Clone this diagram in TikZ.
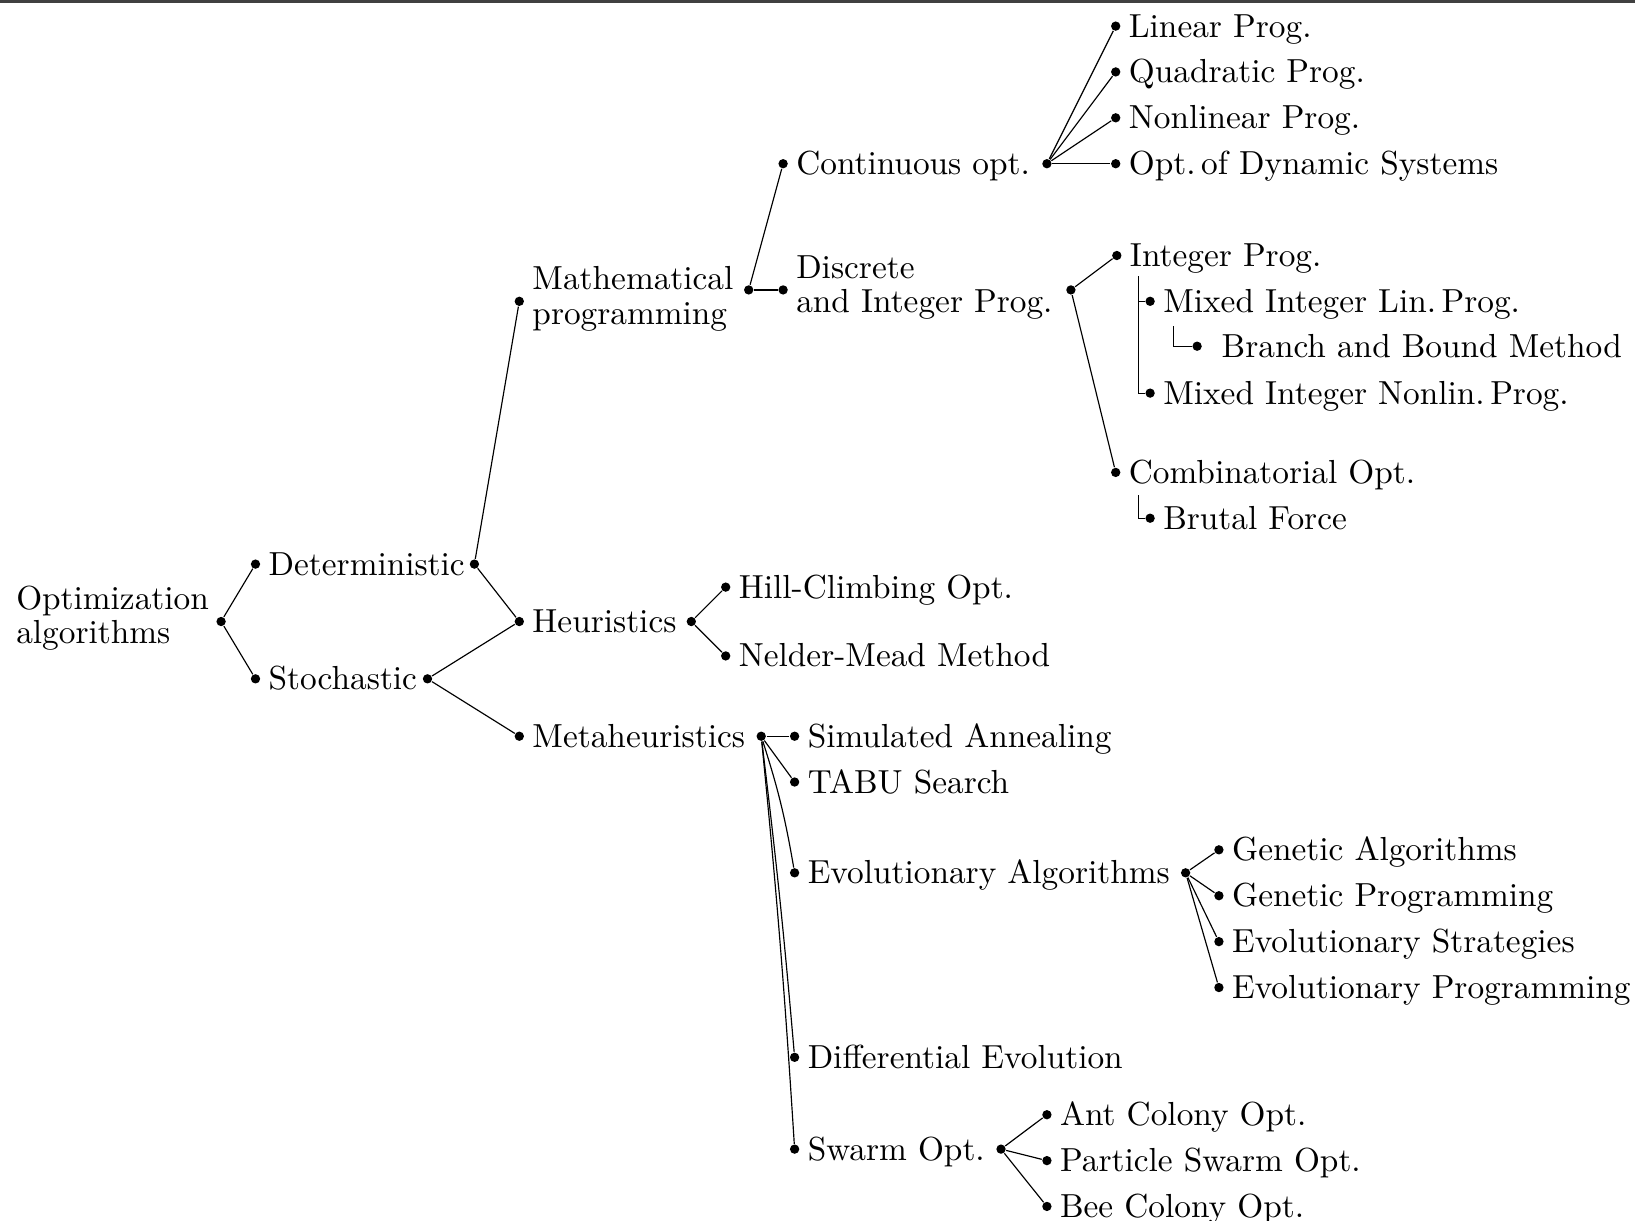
\documentclass[tikz,border=0pt]{standalone}
\begin{document}
\begin{tikzpicture}[x=0.3pt,y=-0.3pt,
  dot/.style={circle, fill=black, inner sep=0pt, minimum size=2.8pt},
  lbl/.style={anchor=base west, inner sep=0pt, font=\fontsize{10}{10.3}\selectfont},
  lbltwo/.style={anchor=west, inner sep=0pt, align=left, font=\fontsize{10}{10.3}\selectfont},
  conn/.style={line width=0.35pt},
  frameline/.style={line width=0.8pt, black!75}]
\useasboundingbox (0,0) rectangle (1635,1220);
\draw[frameline] (0,1.5) -- (1635,1.5);
\newcommand{\mkleaf}[4]{\node[dot] (#1) at (#2,#3) {}; \node[lbl] (#1t) at (#2+12.5,#3+11) {#4};}
% root
\node[dot] (root) at (221.1,621.5) {};
\node[lbltwo] (roott) at (15.6,618) {Optimization\\algorithms};
% level 1
\mkleaf{detL}{255.5}{564.1}{Deterministic}
\node[dot] (detR) at (474.4,564.1) {};
\mkleaf{stoL}{255.5}{678.8}{Stochastic}
\node[dot] (stoR) at (427.5,678.8) {};
% level 2
\node[dot] (mpL) at (519.3,301.3) {};
\node[lbltwo] (mpt) at (531.8,298.8) {Mathematical\\programming};
\node[dot] (mpR) at (748.7,289.9) {};
\mkleaf{heL}{519.3}{621.5}{Heuristics}
\node[dot] (heR) at (691.3,621.5) {};
\mkleaf{meL}{519.3}{736.2}{Metaheuristics}
\node[dot] (meR) at (761.2,736.2) {};
% level 3
\mkleaf{coL}{783.1}{163.7}{Continuous opt.}
\node[dot] (coR) at (1046.9,163.7) {};
\node[dot] (diL) at (783.1,289.9) {};
\node[lbltwo] (dit) at (795.6,287.4) {Discrete\\and Integer Prog.};
\node[dot] (diR) at (1070.9,289.9) {};
\mkleaf{hc}{725.7}{587.1}{Hill-Climbing Opt.}
\mkleaf{nm}{725.7}{655.9}{Nelder-Mead Method}
\mkleaf{sa}{794.6}{736.2}{Simulated Annealing}
\mkleaf{ts}{794.6}{782.0}{TABU Search}
\mkleaf{eaL}{794.6}{872.8}{Evolutionary Algorithms}
\node[dot] (eaR) at (1185.6,872.8) {};
\mkleaf{de}{794.6}{1057.3}{Differential Evolution}
\mkleaf{swL}{794.6}{1149.1}{Swarm Opt.}
\node[dot] (swR) at (1001,1149.1) {};
% level 4
\mkleaf{lp}{1115.7}{26.1}{Linear Prog.}
\mkleaf{qp}{1115.7}{71.9}{Quadratic Prog.}
\mkleaf{nlp}{1115.7}{117.8}{Nonlinear Prog.}
\mkleaf{ods}{1115.7}{163.7}{Opt.\,of Dynamic Systems}
\mkleaf{ip}{1116.8}{255.5}{Integer Prog.}
\mkleaf{milp}{1150.1}{301.3}{Mixed Integer Lin.\,Prog.}
\node[dot] (bnb) at (1197.1,346.2) {};
\node[lbl] (bnbt) at (1221,357.2) {Branch and Bound Method};
\mkleaf{minlp}{1150.1}{393.1}{Mixed Integer Nonlin.\,Prog.}
\mkleaf{co}{1115.7}{472.4}{Combinatorial Opt.}
\mkleaf{bf}{1150.1}{518.2}{Brutal Force}
\mkleaf{ga}{1218.9}{849.8}{Genetic Algorithms}
\mkleaf{gp}{1218.9}{895.7}{Genetic Programming}
\mkleaf{es}{1218.9}{941.6}{Evolutionary Strategies}
\mkleaf{ep}{1218.9}{987.5}{Evolutionary Programming}
\mkleaf{aco}{1046.9}{1114.7}{Ant Colony Opt.}
\mkleaf{pso}{1046.9}{1160.6}{Particle Swarm Opt.}
\mkleaf{bco}{1046.9}{1206.4}{Bee Colony Opt.}
% elbow coordinates
\coordinate (ipv) at (1138.7,276);
\coordinate (bbv) at (1173.1,326.4);
\coordinate (bfv) at (1138.7,495.3);
% connectors
\draw[conn] (root) -- (detL);
\draw[conn] (root) -- (stoL);
\draw[conn] (detR) -- (mpL);
\draw[conn] (detR) -- (heL);
\draw[conn] (stoR) -- (heL);
\draw[conn] (stoR) -- (meL);
\draw[conn] (mpR) -- (coL);
\draw[conn] (mpR) -- (diL);
\draw[conn] (coR) -- (lp);
\draw[conn] (coR) -- (qp);
\draw[conn] (coR) -- (nlp);
\draw[conn] (coR) -- (ods);
\draw[conn] (diR) -- (ip);
\draw[conn] (diR) -- (co);
\draw[conn] (ipv) |- (milp);
\draw[conn] (ipv) |- (minlp);
\draw[conn] (bbv) |- (bnb);
\draw[conn] (bfv) |- (bf);
\draw[conn] (heR) -- (hc);
\draw[conn] (heR) -- (nm);
\draw[conn] (meR) -- (sa);
\draw[conn] (meR) -- (ts);
\draw[conn] (meR) to[bend left=4] (eaL);
\draw[conn] (meR) to[bend left=1] (de);
\draw[conn] (meR) to[bend left=1] (swL);
\draw[conn] (eaR) -- (ga);
\draw[conn] (eaR) -- (gp);
\draw[conn] (eaR) -- (es);
\draw[conn] (eaR) -- (ep);
\draw[conn] (swR) -- (aco);
\draw[conn] (swR) -- (pso);
\draw[conn] (swR) -- (bco);
\end{tikzpicture}
\end{document}
